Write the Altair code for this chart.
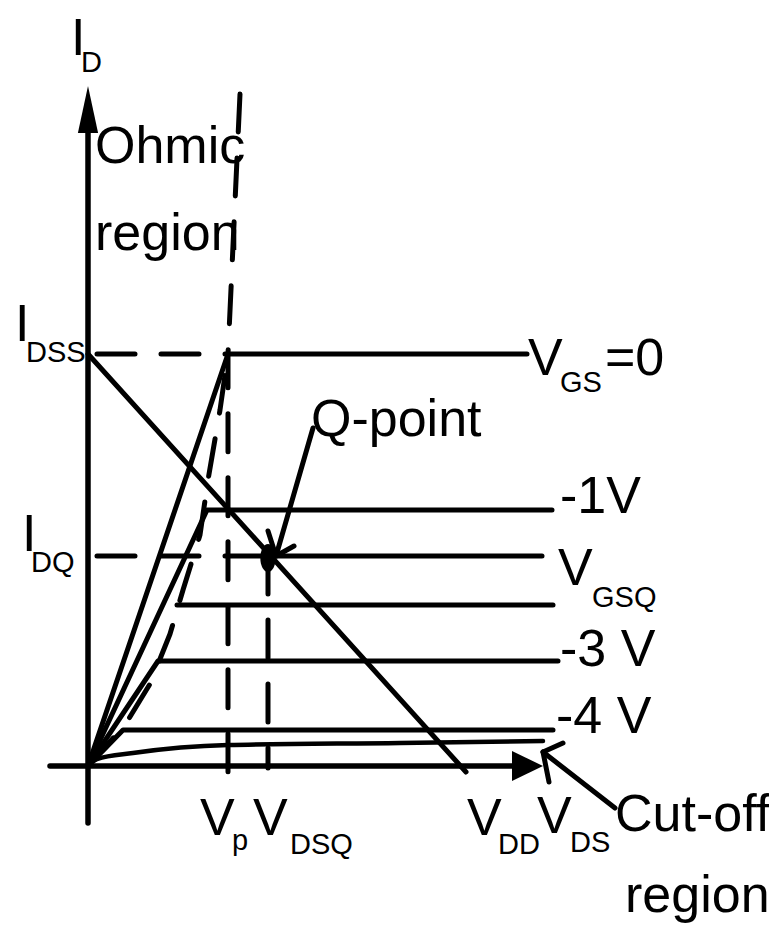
import altair as alt
import pandas as pd

# ---------------- data (diagram units: x along V_DS, y along I_D; origin at axis crossing) ----
# output characteristics (solid)
VGS0_X = [0, 140, 439];  VGS0_Y = [0, 412, 412]
VGS1_X = [0, 119, 464];  VGS1_Y = [0, 256, 256]
VGSQ_X = [182, 454];     VGSQ_Y = [210, 210]
VGS2_X = [89, 465];      VGS2_Y = [161, 161]
VGS3_X = [0, 70, 470];   VGS3_Y = [0, 105, 105]
VGS4_X = [0, 35, 465];   VGS4_Y = [0, 36, 36]
CUTOFF_X = [0, 9, 45, 140, 312, 455]; CUTOFF_Y = [0, 7, 13, 21, 23, 25]
LOAD_X = [0, 378];       LOAD_Y = [412, -6]
XAXIS_X = [-38, 424];    XAXIS_Y = [0, 0]
YAXIS_X = [0, 0];        YAXIS_Y = [-57, 633]
# annotation arrows (open heads)
QARROW_X = [225, 188];   QARROW_Y = [338, 210]
QHEAD_X = [180, 188, 206]; QHEAD_Y = [235, 210, 220]
CARROW_X = [527, 455];   CARROW_Y = [-42, 14]
CHEAD_X = [475, 455, 461]; CHEAD_Y = [23, 14, -16]

# dashed guides
IDSS_X = [9, 140];       IDSS_Y = [412, 412]
VP_X = [152, 140, 140];  VP_Y = [672, 412, -9]
IDQ_X = [9, 180];        IDQ_Y = [210, 210]
VDSQ_X = [180, 180];     VDSQ_Y = [210, -2]
LOCUS_X = [0, 37, 62, 82, 95, 112, 120, 132, 140]
LOCUS_Y = [0, 41, 82, 132, 176, 231, 286, 356, 412]

# Q-point
Q_X = [180]; Q_Y = [208]

# labels: text, left x, baseline y, big(1)/subscript(0)
LABEL_TEXT = ["I", "D", "Ohmic", "region", "I", "DSS", "I", "DQ",
              "V", "GS", "=0", "Q-point", "-1V", "V", "GSQ", "-3 V", "-4 V",
              "V", "p", "V", "DSQ", "V", "DD", "V", "DS", "Cut-off", "region"]
LABEL_X = [-17, -7, 7, 7, -73, -62, -66, -57,
           440, 472, 517, 223, 472, 470, 504, 472, 468,
           112, 144, 165, 202, 379, 410, 449, 482, 527, 537]
LABEL_Y = [711, 694, 603, 516, 425, 404, 215, 194,
           391, 374, 391, 330, 253, 181, 159, 100, 33,
           -69, -84, -69, -88, -69, -88, -67, -86, -65, -146]
LABEL_BIG = [1, 0, 1, 1, 1, 0, 1, 0,
             1, 0, 1, 1, 1, 1, 0, 1, 1,
             1, 0, 1, 0, 1, 0, 1, 0, 1, 1]

# ---------------- build tables ----------------
def poly(name, xs, ys):
    return [{"s": name, "o": i, "x": a, "y": b} for i, (a, b) in enumerate(zip(xs, ys))]

solid = pd.DataFrame(
    poly("vgs0", VGS0_X, VGS0_Y) + poly("vgs1", VGS1_X, VGS1_Y) +
    poly("vgsq", VGSQ_X, VGSQ_Y) + poly("vgs2", VGS2_X, VGS2_Y) +
    poly("vgs3", VGS3_X, VGS3_Y) + poly("vgs4", VGS4_X, VGS4_Y) +
    poly("load", LOAD_X, LOAD_Y) +
    poly("qarrow", QARROW_X, QARROW_Y) + poly("qhead", QHEAD_X, QHEAD_Y) +
    poly("carrow", CARROW_X, CARROW_Y) + poly("chead", CHEAD_X, CHEAD_Y)
)
cut = pd.DataFrame(poly("cut", CUTOFF_X, CUTOFF_Y))
axes = pd.DataFrame(poly("xa", XAXIS_X, XAXIS_Y) + poly("ya", YAXIS_X, YAXIS_Y))
dashed = pd.DataFrame(
    poly("idss", IDSS_X, IDSS_Y) + poly("vp", VP_X, VP_Y) +
    poly("idq", IDQ_X, IDQ_Y) + poly("vdsq", VDSQ_X, VDSQ_Y) +
    poly("locus", LOCUS_X, LOCUS_Y)
)
labels = pd.DataFrame({"t": LABEL_TEXT, "x": LABEL_X, "y": LABEL_Y, "big": LABEL_BIG})
big = labels[labels.big == 1]
small = labels[labels.big == 0]

yarrow = pd.DataFrame({"x": [YAXIS_X[1]], "y": [YAXIS_Y[1] + 23.5]})
xarrow = pd.DataFrame({"x": [XAXIS_X[1] + 15.5], "y": [XAXIS_Y[1]]})
qpt = pd.DataFrame({"x": Q_X, "y": Q_Y})

X = alt.X("x:Q", scale=alt.Scale(domain=[-80, 681], nice=False, zero=False), axis=None)
Y = alt.Y("y:Q", scale=alt.Scale(domain=[-158, 758], nice=False, zero=False), axis=None)
FONT = "Liberation Sans, Arial, sans-serif"

base_line = dict(color="black", strokeCap="round", strokeJoin="round")

l_solid = alt.Chart(solid).mark_line(strokeWidth=5, **base_line).encode(
    x=X, y=Y, detail="s:N", order="o:Q")
l_cut = alt.Chart(cut).mark_line(strokeWidth=4.5, interpolate="monotone", **base_line).encode(
    x=X, y=Y, detail="s:N", order="o:Q")
l_axes = alt.Chart(axes).mark_line(strokeWidth=5.5, **base_line).encode(
    x=X, y=Y, detail="s:N", order="o:Q")
l_dash = alt.Chart(dashed).mark_line(strokeWidth=5, strokeDash=[38, 26], **base_line).encode(
    x=X, y=Y, detail="s:N", order="o:Q")

l_yarrow = alt.Chart(yarrow).mark_point(
    shape="M0,-1L0.43,1L-0.43,1Z", size=47 * 47, filled=True, color="black", opacity=1,
    strokeWidth=0).encode(x=X, y=Y)
l_xarrow = alt.Chart(xarrow).mark_point(
    shape="M1,0L-1,0.97L-1,-0.97Z", size=31 * 31, filled=True, color="black", opacity=1,
    strokeWidth=0).encode(x=X, y=Y)
l_q = alt.Chart(qpt).mark_point(
    shape="M0,-1A0.55,1 0 1,1 0,1A0.55,1 0 1,1 0,-1Z", size=28 * 28, filled=True,
    color="black", opacity=1, strokeWidth=0).encode(x=X, y=Y)

t_big = alt.Chart(big).mark_text(
    font=FONT, fontSize=52, align="left", baseline="alphabetic", color="black").encode(
    x=X, y=Y, text="t:N")
t_small = alt.Chart(small).mark_text(
    font=FONT, fontSize=29, align="left", baseline="alphabetic", color="black").encode(
    x=X, y=Y, text="t:N")

chart = alt.layer(
    l_dash, l_cut, l_solid, l_axes, l_yarrow, l_xarrow, l_q, t_big, t_small
).properties(
    width=761, height=916, autosize=alt.AutoSizeParams(type="none"), padding=0,
    background="white"
).configure_view(stroke=None)

chart.save("out.html", embed_options={"renderer": "svg", "actions": False})
